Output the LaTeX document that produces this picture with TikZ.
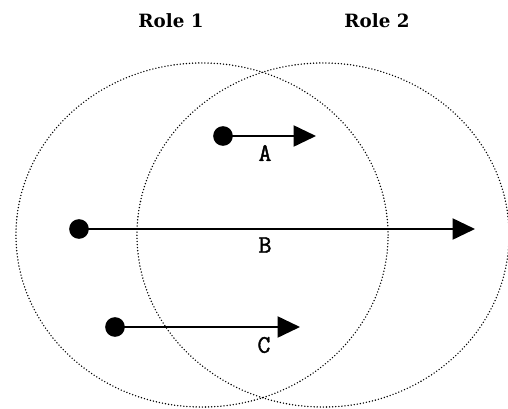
\documentclass[tikz,border=0pt]{standalone}
\usepackage{fontspec}
\newfontfamily\rolefont{DejaVu Serif}
\newfontfamily\letterfont[FakeBold=1.5]{Latin Modern Mono}
\usetikzlibrary{arrows.meta,shapes.geometric}
\tikzset{
	roleArea/.style={
		draw,
		ellipse,
		inner sep=0pt,
		line width=1.1pt,
		line cap=round,
		dash pattern=on 0pt off 2.2pt,
		minimum width=9.3cm,
		minimum height=8.6cm
	},
	roleTitle/.style={font=\rolefont\bfseries\fontsize{13}{15}\selectfont},
	msgStart/.style={circle, fill=black, inner sep=0pt, minimum size=14pt},
	msgFlow/.style={-{Triangle[length=16pt,width=15pt]}, line width=1.5pt},
	msgLabel/.style={font=\letterfont\fontsize{18}{20}\selectfont}
}
\begin{document}
\begin{tikzpicture}[x=0.025cm, y=-0.025cm]
	\useasboundingbox (0,0) rectangle (508,409);

	% Role areas
	\node[roleArea] (role1) at (202,235) {};
	\node[roleArea] (role2) at (323,235) {};
	\node[roleTitle] (title1) at (171,21) {Role 1};
	\node[roleTitle] (title2) at (377,21) {Role 2};

	% Messages
	\node[msgStart] (startA) at (223,136) {};
	\coordinate (endA) at (316,136);
	\node[msgStart] (startB) at (79,229) {};
	\coordinate (endB) at (475,229);
	\node[msgStart] (startC) at (115,327) {};
	\coordinate (endC) at (300,327);

	\draw[msgFlow] (startA.center) -- (endA);
	\draw[msgFlow] (startB.center) -- (endB);
	\draw[msgFlow] (startC.center) -- (endC);

	\node[msgLabel] (labelA) at (265,153) {A};
	\node[msgLabel] (labelB) at (265,245) {B};
	\node[msgLabel] (labelC) at (264,345) {C};

\end{tikzpicture}
\end{document}
